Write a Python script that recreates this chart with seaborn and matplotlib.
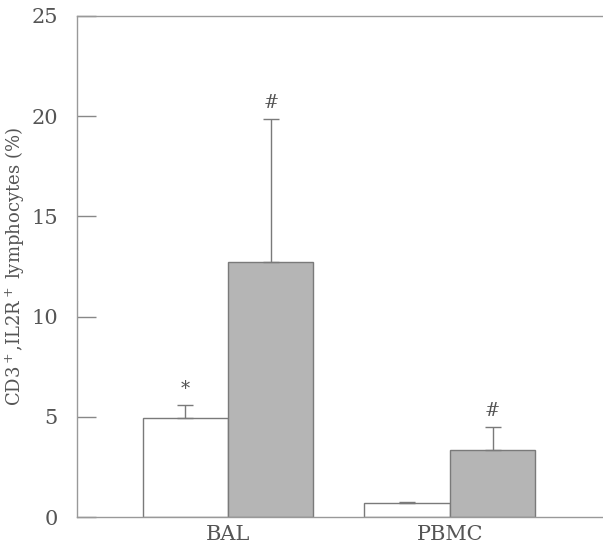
import matplotlib
matplotlib.use("Agg")
import matplotlib.pyplot as plt
import seaborn as sns
import pandas as pd

sns.set_style("white")
plt.rcParams['font.family'] = ['DejaVu Serif']
plt.rcParams['mathtext.fontset'] = 'dejavuserif'
plt.rcParams['ytick.left'] = True

# data
sites = ["BAL", "BAL", "PBMC", "PBMC"]
groups = ["Control", "Patients", "Control", "Patients"]
means = [4.95, 12.75, 0.7, 3.35]
sems = [0.65, 7.1, 0.05, 1.15]
marks = ["*", "#", "", "#"]

df = pd.DataFrame({'Site': sites, 'Group': groups, 'Value': means})

txt = '#555555'
fig = plt.figure(figsize=(6.03, 5.49), dpi=100)
ax = fig.add_axes([0.128, 0.058, 0.872, 0.913])
sns.barplot(data=df, x='Site', y='Value', hue='Group', hue_order=["Control", "Patients"],
            palette={"Control": "white", "Patients": "#b5b5b5"},
            width=0.77, errorbar=None, legend=False, ax=ax, saturation=1)

for p in ax.patches:
    p.set_edgecolor('#7a7a7a')
    p.set_linewidth(1.0)

for p in ax.patches:
    x = p.get_x() + p.get_width() / 2
    h = p.get_height()
    for i in range(len(means)):
        if abs(means[i] - h) < 1e-9:
            ax.errorbar(x, h, yerr=[[0], [sems[i]]], fmt='none', ecolor='#7a7a7a',
                        elinewidth=1.0, capsize=6, capthick=1.0)
            if marks[i]:
                ax.text(x, h + sems[i] + 0.35, marks[i], ha='center', va='bottom',
                        fontsize=13, color=txt)

ax.set_ylim(0, 25)
ax.set_xlim(-0.68, 1.69)
ax.set_yticks([0, 5, 10, 15, 20, 25])
ax.tick_params(axis='y', left=True, direction='in', length=14, width=1.0, color='#888888',
               labelsize=15, labelcolor=txt, pad=14)
ax.tick_params(axis='x', bottom=False, length=0, labelsize=15, labelcolor=txt, pad=6)
ax.set_xlabel('')
ax.set_ylabel('CD3$^+$,IL2R$^+$ lymphocytes (%)', fontsize=13, color=txt)
ax.yaxis.set_label_coords(-0.095, 0.5)
for s in ['left', 'top', 'bottom']:
    ax.spines[s].set_color('#999999')
    ax.spines[s].set_linewidth(1.0)
ax.spines['right'].set_visible(False)

fig.savefig('out.png', dpi=100)
